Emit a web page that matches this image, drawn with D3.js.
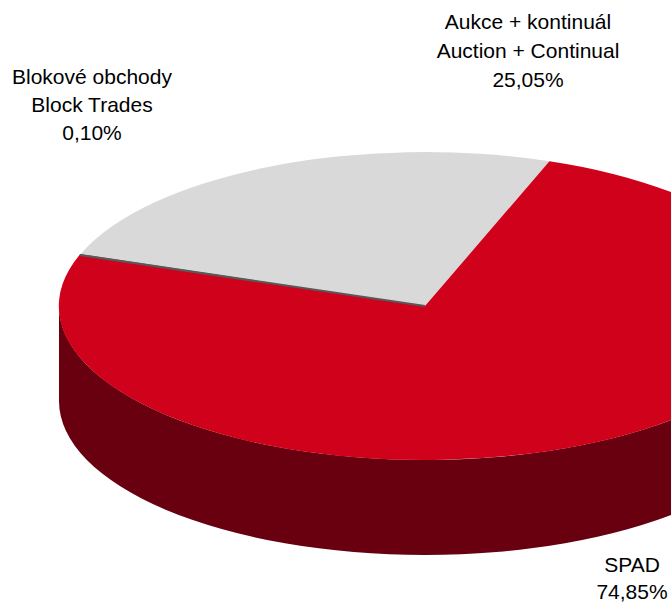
<!DOCTYPE html>
<html>
<head>
<meta charset="utf-8">
<script src="https://cdn.jsdelivr.net/npm/d3@7"></script>
<style>
  body { margin: 0; background: #fff; }
  svg { display: block; }
  text { font-family: "Liberation Sans", Arial, sans-serif; font-size: 21px; fill: #000; }
</style>
</head>
<body>
<div id="chart"></div>
<script>
'use strict';

// data
var categories = ['Aukce + kontinuál', 'SPAD', 'Blokové obchody'];
var categoriesEn = ['Auction + Continual', '', 'Block Trades'];
var shares = [25.05, 74.85, 0.10];
var shareLabels = ['25,05%', '74,85%', '0,10%'];
var colors = ['#d9d9d9', '#d0011b', '#595959'];
var sideColors = ['#a6a6a6', '#690010', '#3a3a3a'];

var width = 671, height = 603;
var cx = 425, cy = 306, rx = 366, ry = 154, depth = 95;

var svg = d3.select('#chart').append('svg')
    .attr('width', width)
    .attr('height', height);

var start = -70.3 * Math.PI / 180;
var pie = d3.pie().sort(null).startAngle(start).endAngle(start + 2 * Math.PI);
var slices = pie(shares);

// unit circle squashed into the ellipse of the top face
var plate = svg.append('g')
    .attr('transform', 'translate(' + cx + ',' + cy + ') scale(' + rx + ',' + ry + ')');

var d = depth / ry;

// visible front wall: d3 angles between PI/2 and 3PI/2
function sidePath(s) {
    var lo = Math.PI / 2, hi = 3 * Math.PI / 2;
    var a0 = s.startAngle, a1 = s.endAngle;
    var paths = [];
    [-2 * Math.PI, 0, 2 * Math.PI].forEach(function (k) {
        var b0 = Math.max(a0 + k, lo), b1 = Math.min(a1 + k, hi);
        if (b1 <= b0) return;
        // convert to canvas angles (0 at 3 o'clock)
        var t0 = b0 - Math.PI / 2, t1 = b1 - Math.PI / 2;
        var p = d3.path();
        p.moveTo(Math.cos(t0), Math.sin(t0));
        p.arc(0, 0, 1, t0, t1);
        p.lineTo(Math.cos(t1), Math.sin(t1) + d);
        p.arc(0, d, 1, t1, t0, true);
        p.closePath();
        paths.push(p.toString());
    });
    return paths.join(' ');
}

plate.selectAll('path.side').data(slices).enter().append('path')
    .attr('class', 'side')
    .attr('d', sidePath)
    .attr('fill', function (s, i) { return sideColors[i]; });

var arc = d3.arc().innerRadius(0).outerRadius(1);

plate.selectAll('path.top').data(slices).enter().append('path')
    .attr('class', 'top')
    .attr('d', arc)
    .attr('fill', function (s, i) { return colors[i]; });

// thin dark edge for the tiny block trades slice
var t = slices[2].startAngle - Math.PI / 2;
svg.append('line')
    .attr('x1', cx).attr('y1', cy)
    .attr('x2', cx + rx * Math.cos(t)).attr('y2', cy + ry * Math.sin(t))
    .attr('stroke', colors[2])
    .attr('stroke-width', 2.2);

// labels
var labelPos = [
    { x: 528, y: 29, step: 29 },
    { x: 632, y: 572, step: 27 },
    { x: 92, y: 84, step: 28 }
];

categories.forEach(function (name, i) {
    var lines = [name];
    if (categoriesEn[i]) lines.push(categoriesEn[i]);
    lines.push(shareLabels[i]);
    var txt = svg.append('text')
        .attr('text-anchor', 'middle')
        .attr('x', labelPos[i].x)
        .attr('y', labelPos[i].y);
    lines.forEach(function (l, j) {
        txt.append('tspan')
            .attr('x', labelPos[i].x)
            .attr('dy', j === 0 ? 0 : labelPos[i].step)
            .text(l);
    });
});
</script>
</body>
</html>
